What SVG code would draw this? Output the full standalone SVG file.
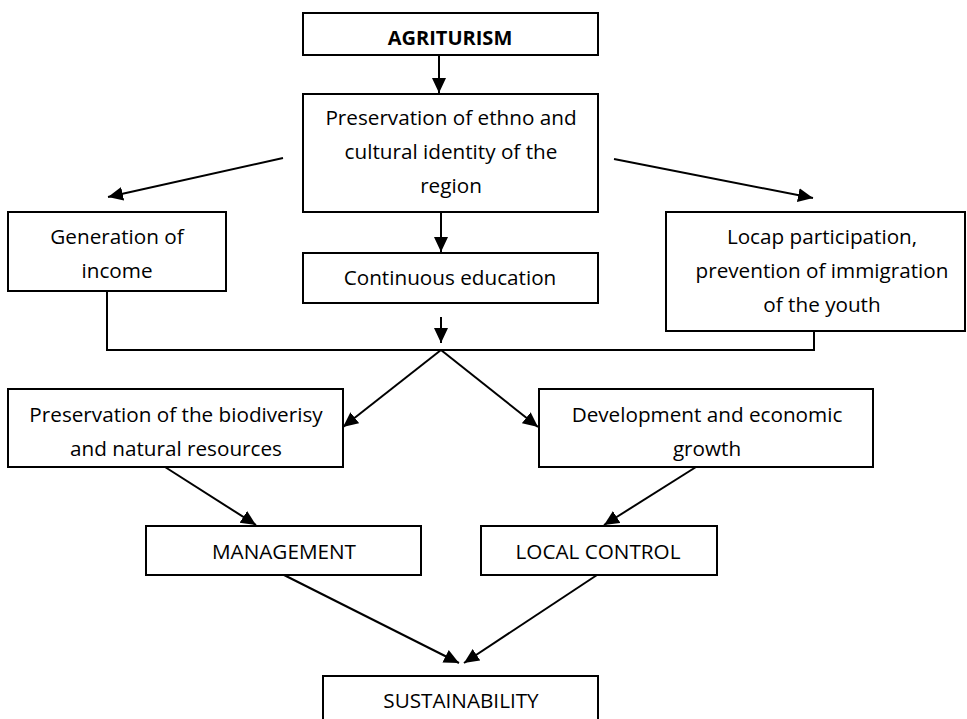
<svg xmlns="http://www.w3.org/2000/svg" width="967" height="719" viewBox="0 0 967 719">
<style>
.box{fill:#fff;stroke:#000;stroke-width:2}
.t{font-family:"Open Sans","Liberation Sans",sans-serif;font-size:20.7px;fill:#000;text-anchor:middle}
.b{font-weight:bold;font-size:20px}
.c{fill:none;stroke:#000;stroke-width:2}
</style>
<defs>
<marker id="ah" markerUnits="userSpaceOnUse" markerWidth="16" markerHeight="15" refX="15" refY="7" orient="auto" viewBox="0 0 16 15">
<path d="M0,0 L15,7 L0,14 z" fill="#000"/>
</marker>
</defs>
<rect width="967" height="719" fill="#fff"/>
<g id="connectors">
<line class="c" x1="439" y1="55" x2="439" y2="93" marker-end="url(#ah)"/>
<line class="c" x1="283" y1="158" x2="108" y2="197" marker-end="url(#ah)"/>
<line class="c" x1="614" y1="159" x2="813" y2="198" marker-end="url(#ah)"/>
<line class="c" x1="441" y1="212" x2="441" y2="252" marker-end="url(#ah)"/>
<line class="c" x1="441" y1="317" x2="441" y2="343" marker-end="url(#ah)"/>
<polyline class="c" points="107,291 107,350 814,350 814,331"/>
<line class="c" x1="441" y1="350" x2="343" y2="427" marker-end="url(#ah)"/>
<line class="c" x1="441" y1="350" x2="538" y2="427" marker-end="url(#ah)"/>
<line class="c" x1="165" y1="467" x2="256" y2="525" marker-end="url(#ah)"/>
<line class="c" x1="696" y1="467" x2="604" y2="525" marker-end="url(#ah)"/>
<line class="c" x1="284" y1="575" x2="459" y2="663" marker-end="url(#ah)"/>
<line class="c" x1="597" y1="575" x2="464" y2="663" marker-end="url(#ah)"/>
</g>
<g id="agriturism">
<rect class="box" x="303" y="13" width="295" height="42"/>
<text class="t b" x="450" y="45">AGRITURISM</text>
</g>
<g id="ethno">
<rect class="box" x="303" y="94" width="295" height="118"/>
<text class="t" x="451" y="125">Preservation of ethno and</text>
<text class="t" x="451" y="159">cultural identity of the</text>
<text class="t" x="451" y="193">region</text>
</g>
<g id="income">
<rect class="box" x="8" y="212" width="218" height="79"/>
<text class="t" x="117" y="244">Generation of</text>
<text class="t" x="117" y="278">income</text>
</g>
<g id="education">
<rect class="box" x="303" y="253" width="295" height="50"/>
<text class="t" x="450" y="285">Continuous education</text>
</g>
<g id="locap">
<rect class="box" x="666" y="212" width="299" height="119"/>
<text class="t" x="822" y="244">Locap participation,</text>
<text class="t" x="822" y="278">prevention of immigration</text>
<text class="t" x="822" y="312">of the youth</text>
</g>
<g id="biodiversity">
<rect class="box" x="8" y="389" width="335" height="78"/>
<text class="t" x="176" y="422">Preservation of the biodiverisy</text>
<text class="t" x="176" y="456">and natural resources</text>
</g>
<g id="development">
<rect class="box" x="539" y="389" width="334" height="78"/>
<text class="t" x="707" y="422">Development and economic</text>
<text class="t" x="707" y="456">growth</text>
</g>
<g id="management">
<rect class="box" x="146" y="526" width="275" height="49"/>
<text class="t" x="284" y="559">MANAGEMENT</text>
</g>
<g id="localcontrol">
<rect class="box" x="481" y="526" width="236" height="49"/>
<text class="t" x="598" y="559">LOCAL CONTROL</text>
</g>
<g id="sustainability">
<rect class="box" x="323" y="676" width="275" height="60"/>
<text class="t" x="461" y="708">SUSTAINABILITY</text>
</g>
</svg>
